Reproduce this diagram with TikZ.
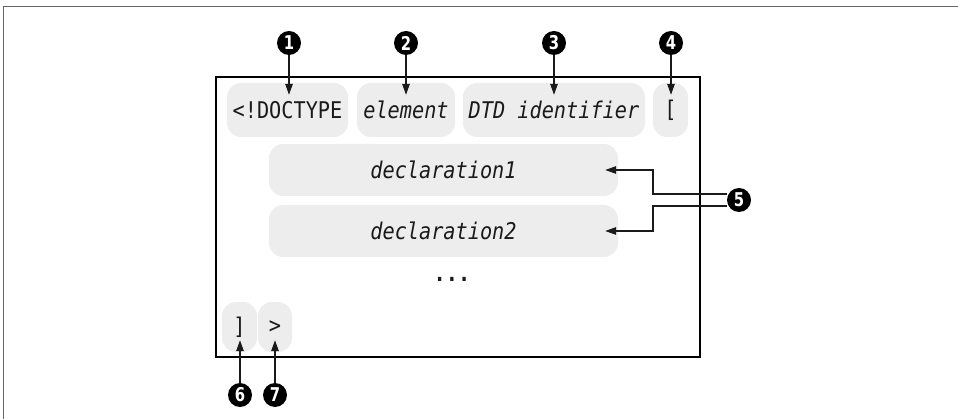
\documentclass[tikz,border=0pt]{standalone}
\usepackage{fontspec}
\setmonofont[FakeStretch=0.88]{DejaVu Sans Mono}
\newfontfamily\calloutfont[FakeStretch=0.78]{DejaVu Sans}
\usetikzlibrary{arrows.meta,calc}
\definecolor{pillgray}{HTML}{EDEDED}
\definecolor{inkblack}{HTML}{1A1A1A}
\tikzset{
  pill/.style={fill=pillgray, rounded corners=14pt, inner sep=0pt,
    font=\ttfamily\fontsize{23}{26}\selectfont, text=inkblack},
  callout/.style={circle, fill=black, inner sep=0pt, minimum size=24pt,
    text=white, font=\calloutfont\bfseries\fontsize{19}{19}\selectfont},
  arr/.style={line width=1.3pt, draw=inkblack,
    -{Triangle[length=11pt,width=7.5pt]}},
  syntaxbox/.style={line width=2.8pt, draw=black},
  frameline/.style={line width=1.4pt, draw=black!60}
}
\begin{document}
\begin{tikzpicture}[x=1pt,y=-1pt]
\useasboundingbox (0,0) rectangle (958,419);
% page frame
\draw[frameline] (3.5,419) -- (3.5,6.5) -- (958,6.5);
% outer syntax box
\draw[syntaxbox] (216,77) rectangle (700,357);

% first line of the declaration
\node[pill, minimum width=121pt, minimum height=54pt] (doc) at (287.5,110) {<!DOCTYPE};
\node[pill, minimum width=98pt, minimum height=54pt] (elem) at (406,110) {\itshape element};
\node[pill, minimum width=182pt, minimum height=54pt] (dtd) at (554,110) {\itshape DTD identifier};
\node[pill, minimum width=35pt, minimum height=54pt] (lbr) at (670.5,110) {[};

% internal subset
\node[pill, minimum width=349pt, minimum height=52pt] (decl1) at (443.5,170) {\itshape declaration1};
\node[pill, minimum width=349pt, minimum height=52pt] (decl2) at (443.5,231) {\itshape declaration2};
\node[font=\ttfamily\bfseries\fontsize{23}{26}\selectfont, text=inkblack] (dots) at (452,279) {...};

% closing tokens
\node[pill, minimum width=35pt, minimum height=50pt] (rbr) at (239.5,327) {]};
\node[pill, minimum width=34pt, minimum height=50pt] (gt) at (275,327) {>};

% callouts
\node[callout] (c1) at (289,43) {1};
\node[callout] (c2) at (406,43) {2};
\node[callout] (c3) at (554,43) {3};
\node[callout] (c4) at (671,43) {4};
\node[callout] (c5) at (739,200) {5};
\node[callout] (c6) at (240,395) {6};
\node[callout] (c7) at (275,395) {7};

% callout arrows
\draw[arr] (c1.south) -- ([yshift=-12pt]c1.south |- doc.north);
\draw[arr] (c2.south) -- ([yshift=-12pt]c2.south |- elem.north);
\draw[arr] (c3.south) -- ([yshift=-12pt]c3.south |- dtd.north);
\draw[arr] (c4.south) -- ([yshift=-12pt]c4.south |- lbr.north);

\coordinate (j1) at (653,170);
\coordinate (j2) at (653,231);
\draw[arr] ([yshift=6pt]c5.west) -| (j1) -- ([xshift=-13pt]decl1.east);
\draw[arr] ([yshift=-6pt]c5.west) -| (j2) -- ([xshift=-13pt]decl2.east);

\draw[arr] (c6.north) -- ([yshift=12pt]c6.north |- rbr.south);
\draw[arr] (c7.north) -- ([yshift=12pt]c7.north |- gt.south);
\end{tikzpicture}
\end{document}
